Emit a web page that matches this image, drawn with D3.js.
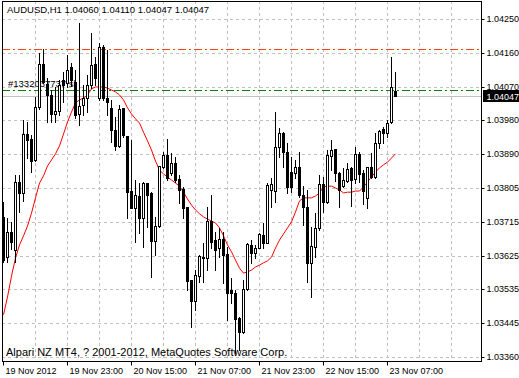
<!doctype html>
<html>
<head>
<meta charset="utf-8">
<title>AUDUSD,H1</title>
<script src="https://d3js.org/d3.v7.min.js"></script>
<style>
  body { margin: 0; background: #fff; }
  svg { display: block; font-family: "Liberation Sans", Arial, sans-serif; }
  .axis path { display: none; }
  .axis line { stroke: #000; }
  .axis text { fill: #000; font-size: 9px; }
</style>
</head>
<body>
<script>
// hourly bars, 19 Nov 2012 07:00 .. 23 Nov 2012 09:00
const open = [1.03729,1.03623,1.03689,1.03642,1.03821,1.03792,1.03947,1.03934,1.03879,1.04018,
  1.04132,1.04079,1.04050,1.04000,1.04008,1.04089,1.04081,1.04124,1.04084,1.04000,
  1.04024,1.04042,1.04076,1.04132,1.04042,1.04176,1.04042,1.04016,1.03958,1.03916,
  1.04016,1.03942,1.03797,1.03752,1.03784,1.03726,1.03818,1.03792,1.03666,1.03705,
  1.03860,1.03892,1.03845,1.03871,1.03829,1.03802,1.03755,1.03563,1.03508,1.03573,
  1.03621,1.03621,1.03718,1.03668,1.03647,1.03671,1.03631,1.03536,1.03529,1.03463,
  1.03426,1.03539,1.03655,1.03634,1.03647,1.03681,1.03660,1.03800,1.03797,1.03913,
  1.03950,1.03900,1.03847,1.03845,1.03860,1.03787,1.03755,1.03608,1.03650,1.03700,
  1.03816,1.03768,1.03889,1.03908,1.03845,1.03810,1.03823,1.03858,1.03829,1.03895,
  1.03845,1.03779,1.03860,1.03834,1.03923,1.03960,1.03950,1.03979,1.04060];
const high = [1.03768,1.03726,1.03716,1.03839,1.03839,1.03984,1.03979,1.03945,1.04045,1.04160,
  1.04171,1.04095,1.04063,1.04071,1.04089,1.04110,1.04155,1.04134,1.04116,1.04239,
  1.04076,1.04103,1.04213,1.04150,1.04187,1.04182,1.04168,1.04037,1.03992,1.04024,
  1.04016,1.03942,1.03931,1.03826,1.03818,1.03821,1.03818,1.03794,1.03729,1.03863,
  1.03900,1.03934,1.03897,1.03887,1.03839,1.03808,1.03755,1.03563,1.03589,1.03629,
  1.03660,1.03755,1.03787,1.03689,1.03700,1.03689,1.03650,1.03568,1.03536,1.03465,
  1.03563,1.03660,1.03668,1.03655,1.03687,1.03713,1.03818,1.03831,1.04005,1.03963,
  1.03952,1.03923,1.03887,1.03879,1.03900,1.03810,1.03800,1.03702,1.03739,1.03839,
  1.03834,1.03905,1.03931,1.03908,1.03847,1.03858,1.03871,1.03860,1.03913,1.03900,
  1.03852,1.03860,1.03897,1.03950,1.03958,1.03966,1.03984,1.04150,1.04110];
const low = [1.03610,1.03610,1.03644,1.03610,1.03742,1.03771,1.03884,1.03847,1.03876,1.04013,
  1.04081,1.03979,1.03979,1.03979,1.03997,1.04031,1.04071,1.04074,1.03989,1.03971,
  1.03997,1.04005,1.04068,1.04076,1.04037,1.04037,1.03997,1.03926,1.03905,1.03913,
  1.03939,1.03726,1.03752,1.03663,1.03687,1.03650,1.03702,1.03571,1.03629,1.03702,
  1.03858,1.03826,1.03839,1.03821,1.03766,1.03726,1.03536,1.03439,1.03484,1.03558,
  1.03558,1.03589,1.03647,1.03589,1.03623,1.03555,1.03457,1.03502,1.03371,1.03378,
  1.03423,1.03536,1.03608,1.03621,1.03647,1.03647,1.03660,1.03755,1.03768,1.03887,
  1.03860,1.03792,1.03794,1.03831,1.03781,1.03708,1.03558,1.03518,1.03623,1.03694,
  1.03742,1.03766,1.03852,1.03823,1.03755,1.03808,1.03821,1.03758,1.03818,1.03821,
  1.03763,1.03752,1.03831,1.03831,1.03910,1.03923,1.03939,1.03976,1.04047];
const close = [1.03615,1.03689,1.03663,1.03821,1.03792,1.03947,1.03931,1.03876,1.04018,1.04132,
  1.04084,1.04050,1.04000,1.04008,1.04076,1.04076,1.04116,1.04089,1.03997,1.04021,
  1.04042,1.04076,1.04129,1.04095,1.04176,1.04042,1.04031,1.03958,1.03916,1.04013,
  1.03945,1.03794,1.03752,1.03787,1.03726,1.03818,1.03787,1.03666,1.03705,1.03863,
  1.03892,1.03831,1.03871,1.03826,1.03800,1.03752,1.03560,1.03508,1.03576,1.03626,
  1.03623,1.03718,1.03663,1.03642,1.03671,1.03629,1.03529,1.03529,1.03460,1.03426,
  1.03539,1.03658,1.03634,1.03647,1.03684,1.03660,1.03813,1.03816,1.03913,1.03950,
  1.03900,1.03808,1.03808,1.03860,1.03787,1.03755,1.03608,1.03652,1.03700,1.03816,
  1.03768,1.03892,1.03905,1.03845,1.03800,1.03826,1.03855,1.03826,1.03895,1.03842,
  1.03797,1.03860,1.03834,1.03923,1.03955,1.03950,1.03976,1.04071,1.04047];
// moving average (red line)
const ma = [1.03471,1.03518,1.03573,1.03621,1.03655,1.03679,1.03705,1.03739,1.03779,1.03818,
  1.03837,1.03863,1.03879,1.03895,1.03916,1.03947,1.03979,1.04005,1.04029,1.04037,
  1.04042,1.04050,1.04066,1.04071,1.04071,1.04071,1.04068,1.04063,1.04058,1.04050,
  1.04037,1.04016,1.04000,1.03987,1.03976,1.03952,1.03929,1.03905,1.03876,1.03852,
  1.03842,1.03834,1.03826,1.03818,1.03810,1.03794,1.03776,1.03760,1.03747,1.03737,
  1.03729,1.03723,1.03718,1.03713,1.03700,1.03679,1.03655,1.03637,1.03615,1.03594,
  1.03581,1.03584,1.03589,1.03597,1.03602,1.03608,1.03613,1.03623,1.03647,1.03668,
  1.03684,1.03700,1.03716,1.03742,1.03771,1.03779,1.03779,1.03779,1.03784,1.03792,
  1.03808,1.03810,1.03810,1.03805,1.03800,1.03792,1.03794,1.03794,1.03797,1.03797,
  1.03808,1.03821,1.03834,1.03847,1.03858,1.03866,1.03873,1.03884,1.03895];

const priceTicks = [1.04250,1.04161,1.04072,1.03983,1.03894,1.03805,1.03716,1.03627,1.03538,1.03449,1.03360];
const priceLabels = ["1.04250","1.04160","1.04070","1.03980","1.03890","1.03805","1.03715","1.03625","1.03535","1.03445","1.03360"];
const timeTicks = [0,16,32,48,64,80,96];
const timeLabels = ["19 Nov 2012","19 Nov 23:00","20 Nov 15:00","21 Nov 07:00","21 Nov 23:00","22 Nov 15:00","23 Nov 07:00"];
const gridBars = [8,16,24,32,40,48,56,64,72,80,88,96,104,112];

const symbol = "AUDUSD,H1";
const bid = 1.04047;
const stopLevel = 1.04170;   // orange dash-dot
const orderLevel = 1.04063;  // green dash-dot
const orderText = "#1332037737 sl";
const copyright = "Alpari NZ MT4, ? 2001-2012, MetaQuotes Software Corp.";

const W = 519, H = 378;
const pLeft = 2, pRight = 481, pTop = 1, pBottom = 361;

const svg = d3.select("body").append("svg")
    .attr("width", W).attr("height", H);

const x = d3.scaleLinear().domain([0, 119.5]).range([3, 481]);
const y = d3.scaleLinear().domain([1.03360, 1.04250]).range([357, 19]);
const py = v => Math.round(y(v));

// grid
const grid = svg.append("g").attr("stroke", "#c0c0c0").attr("stroke-dasharray", "3,3");
grid.selectAll("line.h").data(priceTicks).enter().append("line")
    .attr("x1", pLeft).attr("x2", pRight)
    .attr("y1", d => py(d) + 0.5).attr("y2", d => py(d) + 0.5);
grid.selectAll("line.v").data(gridBars).enter().append("line")
    .attr("y1", pTop).attr("y2", pBottom)
    .attr("x1", d => Math.round(x(d)) + 0.5).attr("x2", d => Math.round(x(d)) + 0.5);

// bid line
svg.append("line")
    .attr("x1", pLeft).attr("x2", pRight)
    .attr("y1", py(bid) + 0.5).attr("y2", py(bid) + 0.5)
    .attr("stroke", "#c0c0c0");

// order levels
svg.append("line")
    .attr("x1", pLeft).attr("x2", pRight)
    .attr("y1", py(stopLevel) + 0.5).attr("y2", py(stopLevel) + 0.5)
    .attr("stroke", "#ff4500").attr("stroke-dasharray", "8,3,2,3");
svg.append("line")
    .attr("x1", pLeft).attr("x2", pRight)
    .attr("y1", py(orderLevel) + 0.5).attr("y2", py(orderLevel) + 0.5)
    .attr("stroke", "#008000").attr("stroke-dasharray", "8,3,2,3");

svg.append("text")
    .attr("x", 8).attr("y", py(orderLevel) - 3)
    .attr("font-size", 9.5).text(orderText);

// moving average
svg.append("path")
    .datum(ma)
    .attr("fill", "none").attr("stroke", "#ff0000").attr("stroke-width", 1)
    .attr("d", d3.line().x((d, i) => Math.round(x(i)) + 0.5).y(d => y(d)));

// candles
const bars = d3.range(open.length);
const candle = svg.append("g").attr("shape-rendering", "crispEdges");
candle.selectAll("rect.wick").data(bars).enter().append("rect")
    .attr("x", i => Math.round(x(i)))
    .attr("y", i => py(high[i]))
    .attr("width", 1)
    .attr("height", i => py(low[i]) - py(high[i]) + 1)
    .attr("fill", "#000");
candle.selectAll("rect.body").data(bars).enter().append("rect")
    .attr("x", i => Math.round(x(i)) - 1)
    .attr("y", i => Math.min(py(open[i]), py(close[i])))
    .attr("width", 3)
    .attr("height", i => Math.abs(py(open[i]) - py(close[i])) + 1)
    .attr("fill", "#000");
candle.selectAll("rect.hollow").data(bars.filter(i => py(close[i]) < py(open[i]) - 1)).enter().append("rect")
    .attr("x", i => Math.round(x(i)))
    .attr("y", i => py(close[i]) + 1)
    .attr("width", 1)
    .attr("height", i => py(open[i]) - py(close[i]) - 1)
    .attr("fill", "#fff");

// frame
svg.append("rect")
    .attr("x", pLeft + 0.5).attr("y", pTop + 0.5)
    .attr("width", pRight - pLeft).attr("height", pBottom - pTop)
    .attr("fill", "none").attr("stroke", "#000");

// price axis
svg.append("g").attr("class", "axis")
    .attr("transform", `translate(${pRight + 0.5},0)`)
    .call(d3.axisRight(y).tickValues(priceTicks).tickSize(3).tickPadding(2)
        .tickFormat((d, i) => priceLabels[i]))
    .call(g => g.selectAll(".tick").attr("transform", d => `translate(0,${py(d) + 0.5})`));

// bid label
svg.append("rect").attr("x", 483).attr("y", py(bid) - 6).attr("width", 36).attr("height", 12).attr("fill", "#000");
svg.append("text").attr("x", 486.5).attr("y", py(bid) + 3.5)
    .attr("font-size", 9).attr("fill", "#fff").text(bid.toFixed(5));

// time axis
svg.append("g").attr("class", "axis")
    .attr("transform", `translate(0,${pBottom + 0.5})`)
    .call(d3.axisBottom(x).tickValues(timeTicks).tickSize(4).tickPadding(2)
        .tickFormat((d, i) => timeLabels[i]))
    .call(g => g.selectAll(".tick").attr("transform", d => `translate(${Math.round(x(d)) + 0.5},0)`))
    .call(g => g.selectAll(".tick text").attr("text-anchor", "start").attr("x", 2));

// title and footer
svg.append("text").attr("x", 7).attr("y", 13).attr("font-size", 9.5)
    .text(symbol + "  " + [open[98], high[98], low[98], close[98]].map(v => v.toFixed(5)).join(" "));
svg.append("text").attr("x", 6).attr("y", 356).attr("font-size", 11).text(copyright);
</script>
</body>
</html>
